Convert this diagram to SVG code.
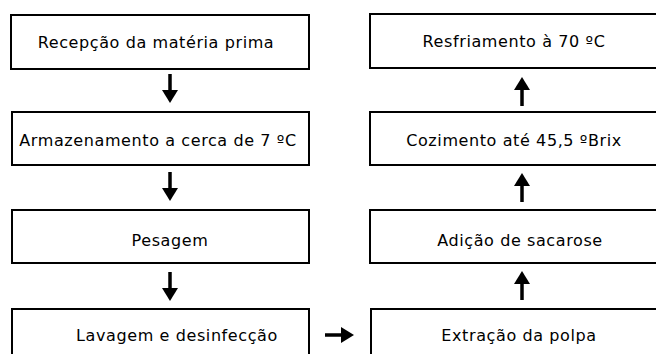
<svg xmlns="http://www.w3.org/2000/svg" width="656" height="354" viewBox="0 0 656 354">
<style>
.box{fill:#fff;stroke:#000;stroke-width:2}
.t{font-family:"DejaVu Sans",Verdana,sans-serif;font-size:16px;letter-spacing:0.6px;fill:#000}
.sh{stroke:#000;stroke-width:3.5;fill:none}
.hd{fill:#000}
</style>
<rect width="656" height="354" fill="#fff"/>
<g id="n1"><rect class="box" x="11" y="15" width="298" height="54"/><text class="t" x="156" y="48" text-anchor="middle">Recepção da matéria prima</text></g>
<g id="n2"><rect class="box" x="12" y="112" width="297" height="53"/><text class="t" x="158" y="146" text-anchor="middle">Armazenamento a cerca de 7 ºC</text></g>
<g id="n3"><rect class="box" x="12" y="210" width="297" height="53"/><text class="t" x="170" y="246" text-anchor="middle">Pesagem</text></g>
<g id="n4"><rect class="box" x="12" y="309" width="297" height="60"/><text class="t" x="177" y="341" text-anchor="middle">Lavagem e desinfecção</text></g>
<g id="n5"><rect class="box" x="371" y="309" width="300" height="60"/><text class="t" x="519" y="341" text-anchor="middle">Extração da polpa</text></g>
<g id="n6"><rect class="box" x="370" y="210" width="300" height="53"/><text class="t" x="520" y="246" text-anchor="middle">Adição de sacarose</text></g>
<g id="n7"><rect class="box" x="370" y="112" width="300" height="53"/><text class="t" x="514" y="146" text-anchor="middle">Cozimento até 45,5 ºBrix</text></g>
<g id="n8"><rect class="box" x="370" y="14" width="300" height="54"/><text class="t" x="514" y="47" text-anchor="middle">Resfriamento à 70 ºC</text></g>
<g id="connectors">
<line class="sh" x1="170" y1="74" x2="170" y2="92"/><polygon class="hd" points="162,90 178,90 170,103"/>
<line class="sh" x1="170" y1="172" x2="170" y2="190"/><polygon class="hd" points="162,188 178,188 170,201"/>
<line class="sh" x1="170" y1="272" x2="170" y2="290"/><polygon class="hd" points="162,288 178,288 170,301"/>
<line class="sh" x1="325" y1="335" x2="343" y2="335"/><polygon class="hd" points="341,327 341,343 354,335"/>
<line class="sh" x1="522" y1="300" x2="522" y2="282"/><polygon class="hd" points="514,284 530,284 522,271"/>
<line class="sh" x1="522" y1="202" x2="522" y2="184"/><polygon class="hd" points="514,186 530,186 522,173"/>
<line class="sh" x1="522" y1="106" x2="522" y2="88"/><polygon class="hd" points="514,90 530,90 522,77"/>
</g>
</svg>
